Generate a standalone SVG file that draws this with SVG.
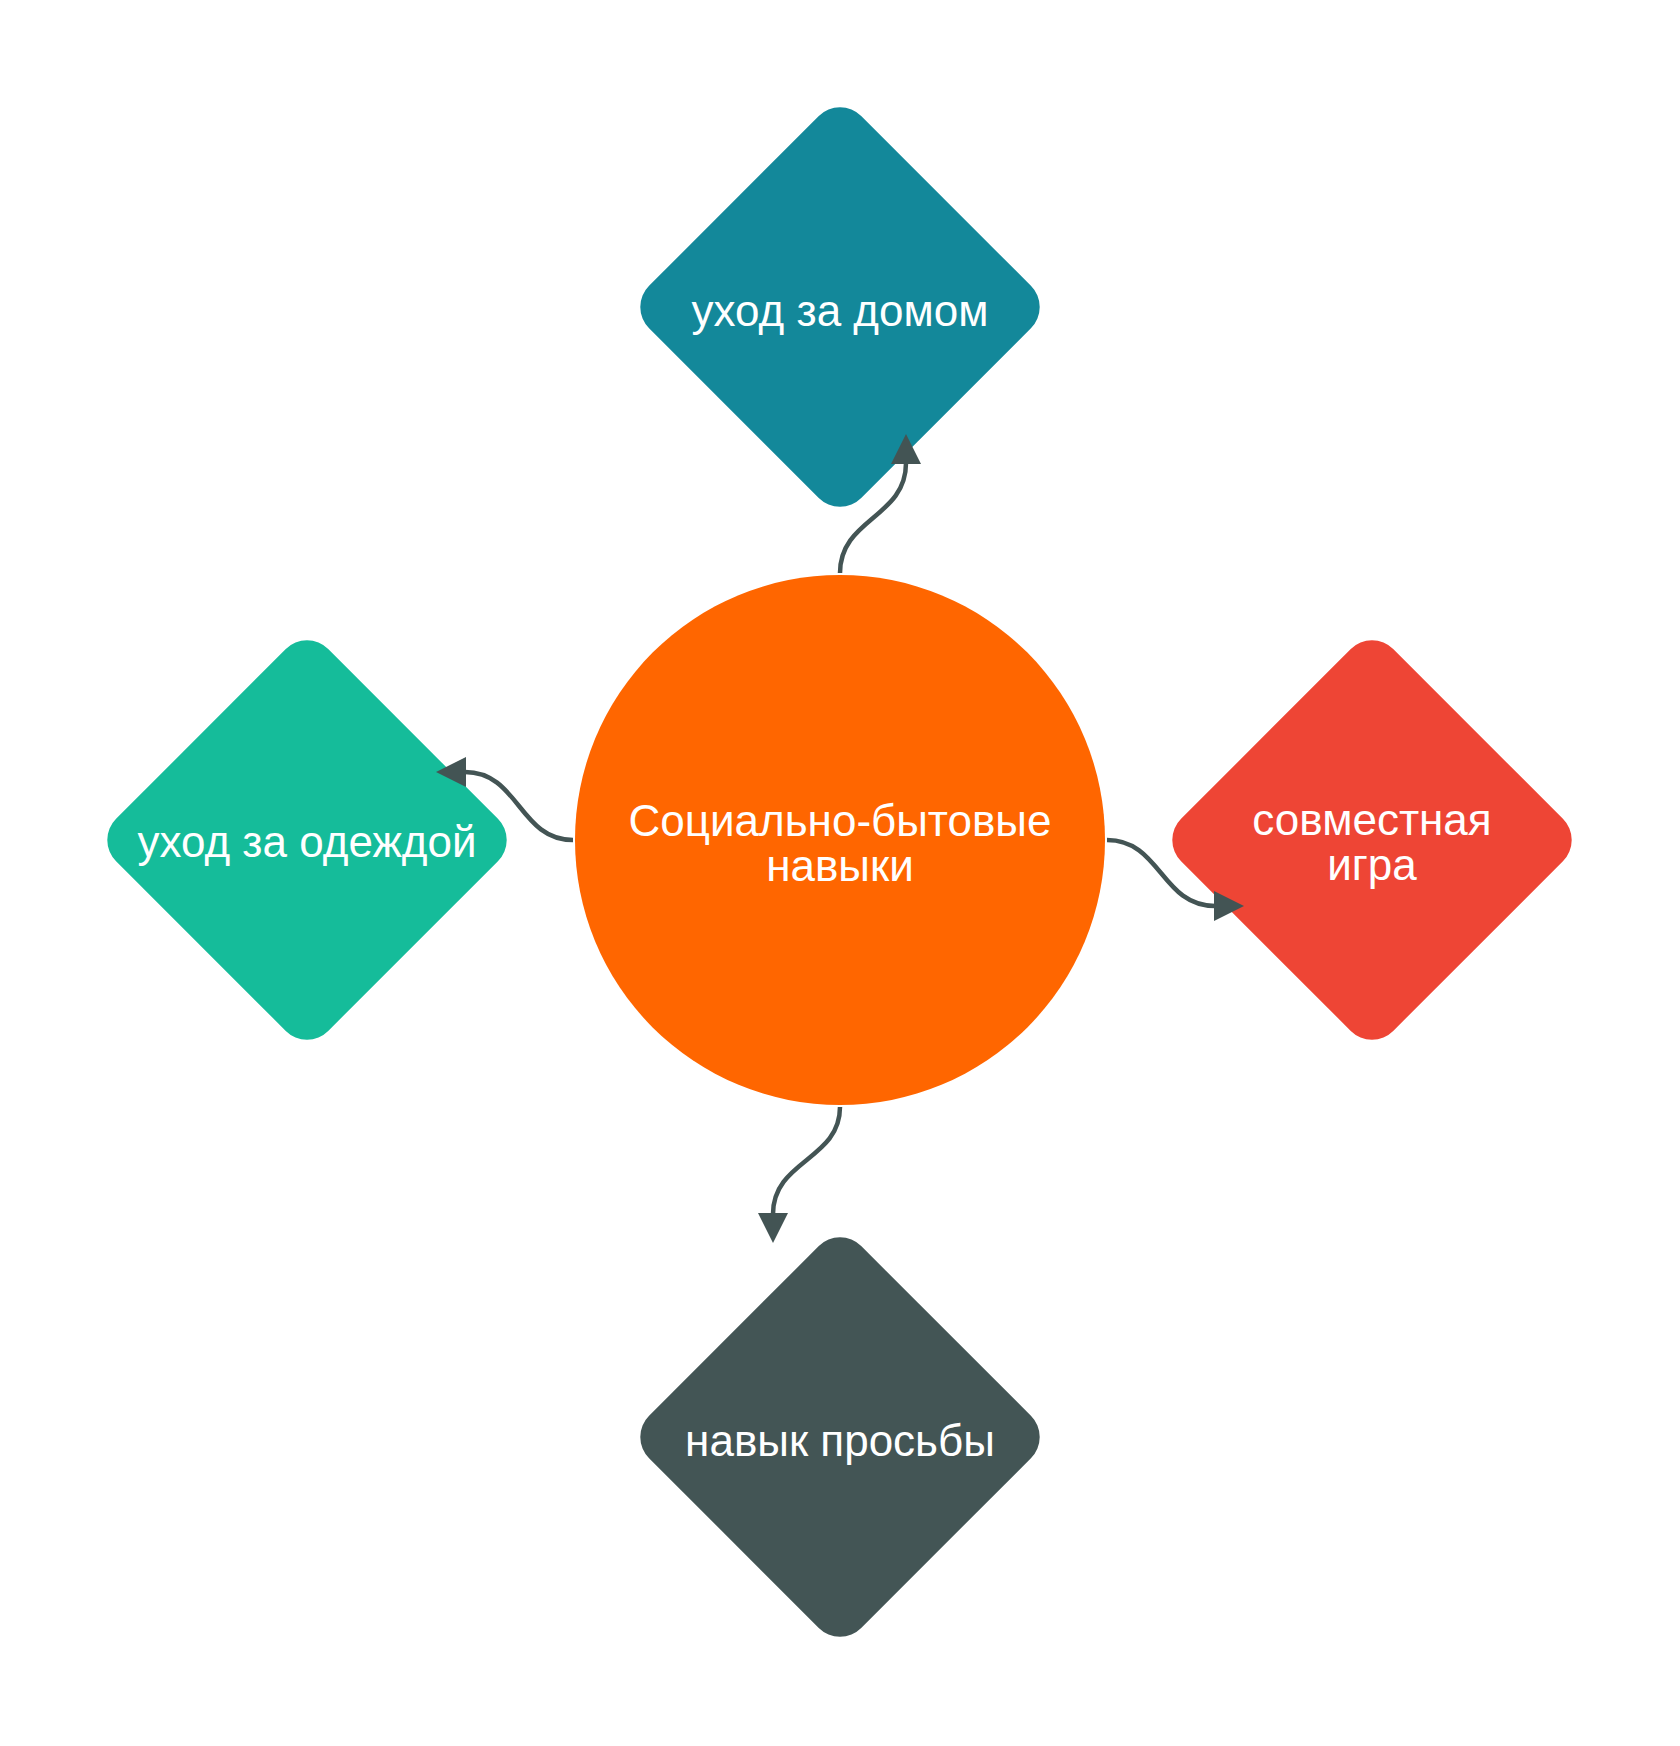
<svg xmlns="http://www.w3.org/2000/svg" width="1680" height="1746" viewBox="0 0 1680 1746">
<style>
.lbl{font-family:"Liberation Sans",Arial,sans-serif;font-size:44px;fill:#ffffff;text-anchor:middle}
.conn{fill:none;stroke:#435454;stroke-width:4.5}
</style>
<defs>
<marker id="arr" viewBox="0 0 30 30" markerWidth="30" markerHeight="30" markerUnits="userSpaceOnUse" refX="1" refY="15" orient="auto">
<path d="M0,0 L30,15 L0,30 Z" fill="#435454"/>
</marker>
</defs>
<rect width="1680" height="1746" fill="#ffffff"/>
<g id="node-top">
<rect x="-150" y="-150" width="300" height="300" rx="30" fill="#13889A" transform="translate(840,307) rotate(45)"/>
<text class="lbl" x="840" y="326">уход за домом</text>
</g>
<g id="node-left">
<rect x="-150" y="-150" width="300" height="300" rx="30" fill="#15BC9A" transform="translate(307,840) rotate(45)"/>
<text class="lbl" x="307" y="857">уход за одеждой</text>
</g>
<g id="node-right">
<rect x="-150" y="-150" width="300" height="300" rx="30" fill="#EE4535" transform="translate(1372,840) rotate(45)"/>
<text class="lbl" x="1372" y="835">совместная</text>
<text class="lbl" x="1372" y="880">игра</text>
</g>
<g id="node-bottom">
<rect x="-150" y="-150" width="300" height="300" rx="30" fill="#435555" transform="translate(840,1437) rotate(45)"/>
<text class="lbl" x="840" y="1456">навык просьбы</text>
</g>
<g id="node-center">
<circle cx="840" cy="840" r="265" fill="#FF6600"/>
<text class="lbl" x="840" y="836">Социально-бытовые</text>
<text class="lbl" x="840" y="881">навыки</text>
</g>
<g id="connectors">
<path class="conn" d="M840,573 C840,518 906,518 906,463" marker-end="url(#arr)"/>
<path class="conn" d="M573,840 C519,840 519,772 465,772" marker-end="url(#arr)"/>
<path class="conn" d="M1107,840 C1161,840 1161,906 1215,906" marker-end="url(#arr)"/>
<path class="conn" d="M840,1107 C840,1160 773,1160 773,1214" marker-end="url(#arr)"/>
</g>
</svg>
